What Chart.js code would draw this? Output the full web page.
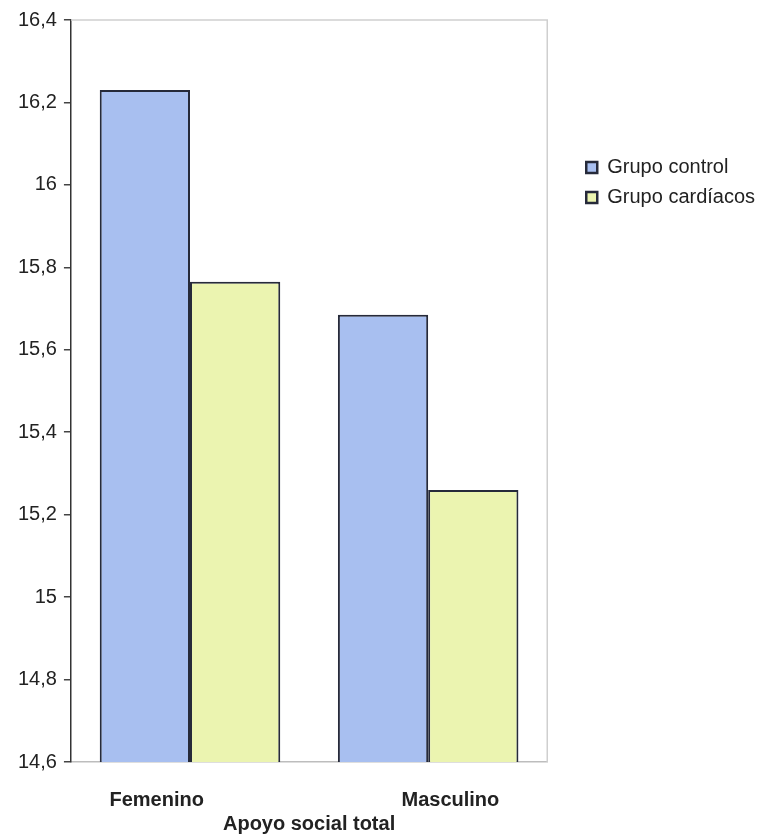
<!DOCTYPE html>
<html><head><meta charset="utf-8">
<script src="https://cdn.jsdelivr.net/npm/chart.js@4.4.1/dist/chart.umd.min.js"></script>
<style>html,body{margin:0;padding:0;background:#fff}#wrap{width:758px;height:836px;position:relative}</style>
</head><body><div id="wrap"><canvas id="c"></canvas></div>
<script>
const categories = ['Femenino', 'Masculino'];
const seriesNames = ['Grupo control', 'Grupo cardíacos'];
const grupoControl = [16.23, 15.685];
const grupoCardiacos = [15.765, 15.26];
const axisTitle = 'Apoyo social total';
const yMin = 14.6, yMax = 16.4, yStep = 0.2;

const FONT = '"Liberation Sans", Arial, sans-serif';
const LEGEND_GAP = 29;

const framePlugin = {
  id: 'frame',
  beforeDatasetsDraw(chart) {
    const a = chart.chartArea, ctx = chart.ctx;
    ctx.save();
    ctx.strokeStyle = '#cfcfcf';
    ctx.lineWidth = 1.5;
    ctx.beginPath();
    ctx.moveTo(a.left, a.top);
    ctx.lineTo(a.right, a.top);
    ctx.lineTo(a.right, a.bottom);
    ctx.stroke();
    ctx.restore();
  }
};

// adds empty space between the plot area and the legend items
const legendGapPlugin = {
  id: 'legendGap',
  beforeLayout(chart) {
    const lg = chart.legend;
    if (!lg || lg._gapPatched) return;
    lg._gapPatched = true;
    const fit = lg.fit, draw = lg.draw;
    lg.fit = function() { fit.call(this); this.width += LEGEND_GAP - 5; };
    lg.draw = function() { this.left += LEGEND_GAP; draw.call(this); this.left -= LEGEND_GAP; };
  }
};

new Chart(document.getElementById('c'), {
  type: 'bar',
  data: {
    labels: categories,
    datasets: [
      { label: seriesNames[0], data: grupoControl, backgroundColor: '#a8bff0', borderColor: '#262a3a', borderWidth: 2, borderSkipped: false },
      { label: seriesNames[1], data: grupoCardiacos, backgroundColor: '#ebf4b0', borderColor: '#262a3a', borderWidth: 2, borderSkipped: false }
    ]
  },
  options: {
    responsive: true,
    maintainAspectRatio: false,
    animation: false,
    devicePixelRatio: 1,
    layout: { padding: { left: 11, right: 0, top: 20, bottom: 0 } },
    datasets: { bar: { categoryPercentage: 0.758, barPercentage: 1.0 } },
    scales: {
      x: {
        grid: { display: false, drawTicks: true, tickLength: 26 },
        border: { display: true, color: '#bdbdbd', width: 1.5 },
        ticks: {
          color: '#222', padding: 0, maxRotation: 0, minRotation: 0,
          font: { family: FONT, size: 20, weight: 'bold' },
          callback: function(v, i) {
            const l = categories[i];
            return i === 0 ? l + '\u00a0'.repeat(12) : '\u00a0'.repeat(8) + l;
          }
        },
        title: { display: true, text: axisTitle, color: '#222', padding: { top: 0, bottom: 0 },
                 font: { family: FONT, size: 20, weight: 'bold' } }
      },
      y: {
        min: yMin, max: yMax,
        grid: { drawOnChartArea: false, drawTicks: true, tickLength: 7, color: '#444', lineWidth: 1.5 },
        border: { display: true, color: '#333', width: 1.5 },
        ticks: {
          stepSize: yStep, padding: 7, color: '#222',
          font: { family: FONT, size: 20 },
          callback: v => String(Number(v.toFixed(1))).replace('.', ',')
        }
      }
    },
    plugins: {
      legend: {
        position: 'right', align: 'start',
        title: { display: true, text: ' ', font: { size: 2 }, padding: { top: 125, bottom: 0 } },
        labels: {
          color: '#222', boxWidth: 11, boxHeight: 11, padding: 10,
          font: { family: FONT, size: 20 },
          generateLabels: chart => chart.data.datasets.map((d, i) => ({
            text: d.label, fillStyle: d.backgroundColor, strokeStyle: '#262a3a', lineWidth: 2.5,
            hidden: false, datasetIndex: i, fontColor: '#222'
          }))
        }
      },
      tooltip: { enabled: false }
    }
  },
  plugins: [framePlugin, legendGapPlugin]
});
</script></body></html>
